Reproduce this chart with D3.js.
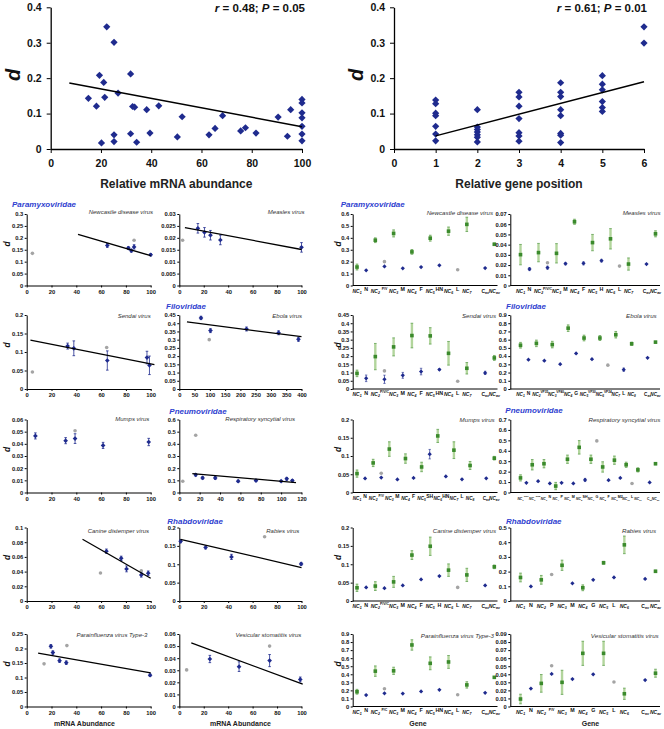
<!DOCTYPE html>
<meta charset="utf-8">
<head>
<script src="https://cdn.jsdelivr.net/npm/d3@7"></script>
<style>
body { margin: 0; background: #fff; }
text { font-family: "Liberation Sans", Arial, sans-serif; }
</style>
</head>
<body>
<script>

// ---- top panels: d against relative mRNA abundance / gene position ----
var mrnaX = [15, 18.2, 19.4, 20.2, 21.1, 21.5, 22.3, 25.2, 25.2, 25.2, 26.8, 31.8, 31.8, 32.6, 33.4, 34.2, 38.2, 39.5, 43,
             50.4, 52.3, 63, 65.4, 68.4, 75.6, 77.5, 81.7, 90.5, 94.2, 95.5, 100, 100, 100, 100, 100, 100, 100];
var mrnaD = [0.143, 0.121, 0.208, 0.017, 0.188, 0.146, 0.345, 0.301, 0.04, 0.021, 0.158, 0.212, 0.043, 0.12, 0.118, 0.019, 0.111, 0.045, 0.122,
             0.034, 0.091, 0.04, 0.058, 0.094, 0.051, 0.06, 0.045, 0.09, 0.036, 0.111, 0.14, 0.13, 0.102, 0.088, 0.064, 0.042, 0.023];
var mrnaFit = [[7.4, 0.186], [100, 0.063]];

var posX = [1, 1, 1, 1, 1, 1, 1, 2, 2, 2, 2, 2, 2, 2, 3, 3, 3, 3, 3, 3, 3, 4, 4, 4, 4, 4, 4, 4, 4, 5, 5, 5, 5, 5, 5, 6, 6];
var posD = [0.138, 0.128, 0.101, 0.094, 0.064, 0.042, 0.023,
            0.111, 0.062, 0.055, 0.048, 0.04, 0.033, 0.02,
            0.16, 0.147, 0.121, 0.086, 0.046, 0.037, 0.022,
            0.187, 0.16, 0.148, 0.111, 0.094, 0.044, 0.039, 0.018,
            0.207, 0.183, 0.167, 0.134, 0.117, 0.106,
            0.345, 0.299];
var posFit = [[1, 0.037], [6, 0.19]];

// ---- per virus: mRNA abundance, d, error  (grey = excluded points) ----
var ndvAbund = [[65, 0.168, 0.008], [82, 0.157, 0.006], [84.4, 0.146, 0.006], [86.6, 0.162, 0.009], [100, 0.129, 0.005]];
var ndvAbundGrey = [[4.6, 0.135], [86.6, 0.19]];
var ndvFit = [[41.4, 0.215], [100, 0.125]];

var measAbund = [[15.2, 0.024, 0.002], [20.6, 0.0223, 0.002], [25.5, 0.0211, 0.002], [33.6, 0.0191, 0.002], [100, 0.016, 0.002]];
var measAbundGrey = [[2.7, 0.019]];
var measFit = [[4.6, 0.0243], [100, 0.0151]];

var sendAbund = [[33, 0.116, 0.008], [38, 0.11, 0.02], [65, 0.077, 0.026], [97, 0.085, 0.017], [99, 0.064, 0.025]];
var sendAbundGrey = [[4.6, 0.046], [64.5, 0.112]];
var sendFit = [[3, 0.132], [103, 0.066]];

var ebolaAbund = [[71, 0.432, 0.01], [102, 0.355, 0.012], [220, 0.365, 0.012], [325, 0.342, 0.012], [390, 0.302, 0.012]];
var ebolaAbundGrey = [[98, 0.3]];
var ebolaFit = [[25, 0.408], [400, 0.318]];

var mumpsAbund = [[7, 0.0465, 0.0025], [31.4, 0.0426, 0.0025], [39, 0.0443, 0.004], [61.6, 0.0387, 0.0025], [98.4, 0.0415, 0.003]];
var mumpsAbundGrey = [[39, 0.0507]];

var rsvAbund = [[16.1, 0.145, 0.01], [22.9, 0.12, 0.01], [35.3, 0.12, 0.012], [57.8, 0.093, 0.008], [75.3, 0.098, 0.008],
                [100, 0.093, 0.006], [105.5, 0.112, 0.012], [111, 0.098, 0.008]];
var rsvAbundGrey = [[3.4, 0.093], [16.1, 0.47]];
var rsvFit = [[12.8, 0.155], [114.6, 0.082]];

var cdvAbund = [[64.3, 0.0677, 0.003], [76.2, 0.058, 0.003], [80.5, 0.0437, 0.004], [92.4, 0.0355, 0.003], [98, 0.0378, 0.003]];
var cdvAbundGrey = [[59.5, 0.038], [92.4, 0.041]];
var cdvFit = [[45, 0.084], [100, 0.031]];

var rabAbund = [[1.1, 0.1625, 0.004], [21.5, 0.1455, 0.004], [42.7, 0.12, 0.007], [99.7, 0.101, 0.004]];
var rabAbundGrey = [[69.8, 0.175]];
var rabFit = [[1, 0.168], [100, 0.091]];

var piv3Abund = [[19.5, 0.2075, 0.006], [21.1, 0.186, 0.006], [26.5, 0.158, 0.006], [31.9, 0.151, 0.006], [99.5, 0.108, 0.004]];
var piv3AbundGrey = [[14, 0.147], [32.4, 0.21]];
var piv3Fit = [[9.2, 0.184], [100, 0.116]];

var vsvAbund = [[25, 0.0393, 0.003], [48.9, 0.033, 0.004], [73.9, 0.038, 0.005], [99, 0.0224, 0.002]];
var vsvAbundGrey = [[6, 0.0303], [73.9, 0.05]];
var vsvFit = [[9.8, 0.0527], [101, 0.0185]];

// ---- per virus: genes (blue) and non-coding regions (green) ----
var ndvGenes = ["NC1", "N", "NC2", "P/V", "NC3", "M", "NC4", "F", "NC5", "HN", "NC6", "L", "NC7", "", "Cav", "NCav"];
var ndvGeneD = [0.155, 0.127, 0.38, 0.16, 0.437, 0.144, 0.282, 0.155, 0.397, 0.169, 0.456, null, 0.513, null, 0.146, 0.346];
var ndvGeneErr = [0.025, 0, 0.02, 0, 0.03, 0, 0.02, 0, 0.025, 0, 0.035, 0, 0.06, 0, 0, 0.01];
var ndvGeneGrey = [["P/V", 0.2], ["L", 0.132]];

var measGenes = ["NC1", "N", "NC2", "P/V/C", "NC3", "M", "NC4", "F", "NC5", "H", "NC6", "L", "NC7", "", "Cav", "NCav"];
var measGeneD = [0.0302, 0.0161, 0.0322, 0.0174, 0.0315, 0.0214, 0.0624, 0.0217, 0.042, 0.0243, 0.0457, null, 0.021, null, 0.021, 0.0506];
var measGeneErr = [0.01, 0.0015, 0.009, 0.0015, 0.0095, 0.0012, 0.0025, 0.0015, 0.008, 0.0013, 0.01, 0, 0.006, 0, 0, 0.003];
var measGeneGrey = [["P/V/C", 0.0223], ["L", 0.019]];

var sendGenes = ["NC1", "N", "NC2", "P/V/C", "NC3", "M", "NC4", "F", "NC5", "HN", "NC6", "L", "NC7", "", "Cav", "NCav"];
var sendGeneD = [0.095, 0.065, 0.197, 0.059, 0.256, 0.083, 0.325, 0.106, 0.323, 0.118, 0.217, null, 0.126, null, 0.098, 0.189];
var sendGeneErr = [0.02, 0.02, 0.08, 0.025, 0.055, 0.018, 0.075, 0.02, 0.05, 0.005, 0.072, 0, 0.035, 0, 0.01, 0.015];
var sendGeneGrey = [["P/V/C", 0.11], ["L", 0.047]];

var ebolaGenes = ["NC1", "N", "NC2", "VP35", "NC3", "VP40", "NC4", "G", "NC5", "VP30", "NC6", "VP24", "NC7", "L", "NC8", "", "Cav", "NCav"];
var ebolaGeneD = [0.532, 0.357, 0.555, 0.345, 0.54, 0.302, 0.74, 0.433, 0.62, 0.363, 0.62, null, 0.66, 0.235, 0.55, null, 0.38, 0.57];
var ebolaGeneErr = [0.035, 0, 0.04, 0, 0.04, 0, 0.04, 0, 0.035, 0, 0.03, 0, 0.04, 0.02, 0.02, 0, 0, 0.01];
var ebolaGeneGrey = [["VP24", 0.29]];

var mumpsGenes = ["NC1", "N", "NC2", "P/V", "NC3", "M", "NC4", "F", "NC5", "SH", "NC6", "HN", "NC7", "L", "NC8", "", "Cav", "NCav"];
var mumpsGeneD = [0.0518, 0.0384, 0.081, 0.041, 0.119, 0.0357, 0.093, 0.04, 0.07, 0.105, 0.155, 0.044, 0.116, 0.036, 0.074, null, 0.039, 0.094];
var mumpsGeneErr = [0.01, 0, 0.01, 0, 0.02, 0, 0.013, 0, 0.013, 0.013, 0.018, 0, 0.023, 0, 0.011, 0, 0, 0.005];
var mumpsGeneGrey = [["P/V", 0.0527]];

var rsvGenes = ["NC1", "NS1", "NC2", "NS2", "NC3", "N", "NC4", "P", "NC5", "M", "NC6", "SH", "NC7", "G", "NC8", "F",
                "NC9", "M2", "NC10", "L", "NC11", "", "Cav", "NCav"];
var rsvGeneD = [0.14, 0.093, 0.266, 0.108, 0.276, 0.087, 0.062, 0.093, 0.319, 0.087, 0.433, 0.12, 0.319, null, 0.245, 0.118,
                0.31, 0.14, 0.266, null, 0.217, null, 0.096, 0.276];
var rsvGeneErr = [0.03, 0, 0.05, 0, 0.04, 0, 0.035, 0, 0.04, 0, 0.065, 0.015, 0.04, 0, 0.05, 0,
                  0.04, 0, 0.025, 0, 0.02, 0, 0, 0.01];
var rsvGeneGrey = [["G", 0.495], ["L", 0.087]];

var cdvGenes = ["NC1", "N", "NC2", "P/V/C", "NC3", "M", "NC4", "F", "NC5", "H", "NC6", "L", "NC7", "", "Cav", "NCav"];
var cdvGeneD = [0.036, 0.037, 0.0406, 0.035, 0.052, 0.0425, 0.125, 0.0587, 0.149, 0.068, 0.084, null, 0.071, null, 0.0425, 0.093];
var cdvGeneErr = [0.01, 0, 0.012, 0, 0.015, 0, 0.012, 0, 0.025, 0, 0.017, 0, 0.018, 0, 0, 0.005];
var cdvGeneGrey = [["L", 0.037]];

var rabGenes = ["NC1", "N", "NC2", "P", "NC3", "M", "NC4", "G", "NC5", "L", "NC6", "", "Cav", "NCav"];
var rabGeneD = [0.16, 0.099, 0.144, null, 0.243, 0.12, 0.09, 0.144, 0.26, 0.16, 0.382, null, 0.15, 0.202];
var rabGeneErr = [0.03, 0, 0.03, 0, 0.035, 0, 0.02, 0, 0.01, 0, 0.06, 0, 0, 0.008];
var rabGeneGrey = [["P", 0.18]];

var piv3Genes = ["NC1", "N", "NC2", "P/C", "NC3", "M", "NC4", "F", "NC5", "HN", "NC6", "L", "NC7", "", "Cav", "NCav"];
var piv3GeneD = [0.183, 0.142, 0.439, 0.163, 0.443, 0.16, 0.764, 0.187, 0.536, 0.207, 0.553, null, 0.268, null, 0.17, 0.362];
var piv3GeneErr = [0.03, 0, 0.065, 0, 0.045, 0, 0.065, 0, 0.08, 0, 0.08, 0, 0.04, 0, 0, 0.01];
var piv3GeneGrey = [["P/C", 0.22], ["L", 0.146]];

var vsvGenes = ["NC1", "N", "NC2", "P/V", "NC3", "M", "NC4", "G", "NC5", "L", "NC6", "", "Cav", "NCav"];
var vsvGeneD = [0.0093, 0.0223, 0.0287, 0.0405, 0.03, 0.034, 0.066, 0.04, 0.066, null, 0.0158, null, 0.0328, 0.0413];
var vsvGeneErr = [0.006, 0, 0.011, 0, 0.015, 0, 0.015, 0, 0.015, 0, 0.007, 0, 0, 0.005];
var vsvGeneGrey = [["P/V", 0.0506], ["L", 0.0304]];

// ---- layout ----
var blue = "#1f2b8e", green = "#3b8a2c", lightGreen = "#b2d59c", grey = "#a4a4a4", famBlue = "#2f3fd0";
var rows = [{t: 214, b: 285.5}, {t: 315, b: 389}, {t: 419.5, b: 492.5}, {t: 527.5, b: 601}, {t: 634, b: 706.5}];
var nameY = [214, 317.8, 421, 532.5, 637];
var abCols = [[26.7, 150.7], [179.3, 301.5]];
var geneCols = [{axis: 352.7, r: [357, 494.3], end: 497.5}, {axis: 510.3, r: [520.5, 655.5], end: 660}];

var svg = d3.select("body").append("svg")
    .attr("width", 664)
    .attr("height", 729);

function diamond(g, cx, cy, size, fill) {
  g.append("path")
    .attr("d", d3.symbol().type(d3.symbolSquare).size(size)())
    .attr("transform", "translate(" + cx + "," + cy + ") rotate(45)")
    .attr("fill", fill);
}

function styleAxis(sel, fs) {
  sel.attr("font-size", fs).attr("font-weight", "bold").attr("font-family", null);
  sel.selectAll("path,line").attr("stroke", "#000");
  sel.selectAll("text").attr("fill", "#111");
}

function ticksOf(max, step) {
  return d3.range(0, Math.round(max / step) + 1).map(function(i) { return +(i * step).toFixed(4); });
}

// ---- big panels ----
function bigPanel(xs, ds, fit, xMax, xTicks, x0, x1, title, note) {
  var x = d3.scaleLinear().domain([0, xMax]).range([x0, x1]);
  var y = d3.scaleLinear().domain([0, 0.4]).range([149, 7.3]);
  var g = svg.append("g");

  g.append("g").attr("transform", "translate(0,149)")
    .call(d3.axisBottom(x).tickValues(xTicks).tickSize(4).tickSizeOuter(0).tickPadding(7)
      .tickFormat(function(d) { return String(d); }))
    .call(styleAxis, 10.5)
    .call(function(a) { a.select(".domain").attr("stroke-width", 1.3); });
  g.append("g").attr("transform", "translate(" + x0 + ",0)")
    .call(d3.axisLeft(y).tickValues([0, 0.1, 0.2, 0.3, 0.4]).tickSize(4).tickSizeOuter(0).tickPadding(5)
      .tickFormat(function(d) { return String(d); }))
    .call(styleAxis, 10.5)
    .call(function(a) { a.select(".domain").attr("stroke-width", 1.3); });

  xs.forEach(function(v, i) { diamond(g, x(v), y(ds[i]), 26, blue); });

  g.append("line")
    .attr("x1", x(fit[0][0])).attr("y1", y(fit[0][1]))
    .attr("x2", x(fit[1][0])).attr("y2", y(fit[1][1]))
    .attr("stroke", "#000").attr("stroke-width", 1.5);

  g.append("text").attr("x", (x0 + x1) / 2).attr("y", 187.5).attr("text-anchor", "middle")
    .attr("font-size", 12).attr("font-weight", "bold").attr("fill", "#222").text(title);

  g.append("text").attr("transform", "translate(" + (x0 - 31) + ",75) rotate(-90)")
    .attr("text-anchor", "middle").attr("font-size", 20).attr("font-weight", "bold")
    .attr("font-style", "italic").attr("fill", "#111").text("d");

  var t = g.append("text").attr("x", x1 + 3).attr("y", 11.5).attr("text-anchor", "end")
    .attr("font-size", 11.5).attr("font-weight", "bold").attr("fill", "#111");
  t.append("tspan").attr("font-style", "italic").text("r");
  t.append("tspan").text(" = " + note[0] + "; ");
  t.append("tspan").attr("font-style", "italic").text("P");
  t.append("tspan").text(" = " + note[1]);
}

bigPanel(mrnaX, mrnaD, mrnaFit, 100, [0, 20, 40, 60, 80, 100], 50.7, 302, "Relative mRNA abundance", ["0.48", "0.05"]);
bigPanel(posX, posD, posFit, 6, [0, 1, 2, 3, 4, 5, 6], 394, 644, "Relative gene position", ["0.61", "0.01"]);

// ---- small abundance panels ----
var abundPanels = [
  {name: "Newcastle disease virus", row: 0, col: 0, yMax: 0.3, yStep: 0.05, xMax: 100, xStep: 20, end: 153, pts: ndvAbund, grey: ndvAbundGrey, fit: ndvFit},
  {name: "Measles virus", row: 0, col: 1, yMax: 0.03, yStep: 0.005, xMax: 100, xStep: 20, end: 304.5, pts: measAbund, grey: measAbundGrey, fit: measFit},
  {name: "Sendai virus", row: 1, col: 0, yMax: 0.2, yStep: 0.05, xMax: 100, xStep: 20, end: 150.7, pts: sendAbund, grey: sendAbundGrey, fit: sendFit},
  {name: "Ebola virus", row: 1, col: 1, yMax: 0.45, yStep: 0.05, xMax: 400, xStep: 50, end: 302, pts: ebolaAbund, grey: ebolaAbundGrey, fit: ebolaFit},
  {name: "Mumps virus", row: 2, col: 0, yMax: 0.06, yStep: 0.01, xMax: 100, xStep: 20, end: 149.3, pts: mumpsAbund, grey: mumpsAbundGrey, fit: null},
  {name: "Respiratory syncytial virus", row: 2, col: 1, yMax: 0.6, yStep: 0.1, xMax: 120, xStep: 20, end: 295, pts: rsvAbund, grey: rsvAbundGrey, fit: rsvFit},
  {name: "Canine distemper virus", row: 3, col: 0, yMax: 0.1, yStep: 0.02, xMax: 100, xStep: 20, end: 149, pts: cdvAbund, grey: cdvAbundGrey, fit: cdvFit},
  {name: "Rabies virus", row: 3, col: 1, yMax: 0.2, yStep: 0.05, xMax: 100, xStep: 20, end: 299.3, pts: rabAbund, grey: rabAbundGrey, fit: rabFit},
  {name: "Parainfluenza virus Type-3", row: 4, col: 0, yMax: 0.25, yStep: 0.05, xMax: 100, xStep: 20, end: 147.3, pts: piv3Abund, grey: piv3AbundGrey, fit: piv3Fit},
  {name: "Vesicular stomatitis virus", row: 4, col: 1, yMax: 0.06, yStep: 0.01, xMax: 100, xStep: 20, end: 301.3, pts: vsvAbund, grey: vsvAbundGrey, fit: vsvFit}
];

abundPanels.forEach(function(p) {
  var R = rows[p.row], C = abCols[p.col];
  var x = d3.scaleLinear().domain([0, p.xMax]).range(C);
  var y = d3.scaleLinear().domain([0, p.yMax]).range([R.b, R.t]);
  var g = svg.append("g");

  g.append("g").attr("transform", "translate(0," + R.b + ")")
    .call(d3.axisBottom(x).tickValues(d3.range(0, p.xMax + 1, p.xStep)).tickSize(2).tickSizeOuter(0).tickPadding(2))
    .call(styleAxis, 5.8);
  g.append("g").attr("transform", "translate(" + C[0] + ",0)")
    .call(d3.axisLeft(y).tickValues(ticksOf(p.yMax, p.yStep)).tickSize(2).tickSizeOuter(0).tickPadding(1.5)
      .tickFormat(function(d) { return String(d); }))
    .call(styleAxis, 5.8);

  p.grey.forEach(function(q) {
    g.append("circle").attr("cx", x(q[0])).attr("cy", y(q[1])).attr("r", 1.8).attr("fill", grey);
  });

  p.pts.forEach(function(q) {
    var cx = x(q[0]);
    g.append("line").attr("x1", cx).attr("x2", cx).attr("y1", y(q[1] - q[2])).attr("y2", y(q[1] + q[2]))
      .attr("stroke", blue).attr("stroke-width", 0.8);
    [q[1] - q[2], q[1] + q[2]].forEach(function(v) {
      g.append("line").attr("x1", cx - 1.3).attr("x2", cx + 1.3).attr("y1", y(v)).attr("y2", y(v))
        .attr("stroke", blue).attr("stroke-width", 0.8);
    });
    diamond(g, cx, y(q[1]), 11, blue);
  });

  if (p.fit) {
    g.append("line")
      .attr("x1", x(p.fit[0][0])).attr("y1", y(p.fit[0][1]))
      .attr("x2", x(p.fit[1][0])).attr("y2", y(p.fit[1][1]))
      .attr("stroke", "#000").attr("stroke-width", 1.3);
  }

  g.append("text").attr("x", p.end).attr("y", nameY[p.row]).attr("text-anchor", "end")
    .attr("font-size", 6).attr("font-style", "italic").attr("fill", "#333").text(p.name);

  if (p.col === 0) {
    g.append("text").attr("transform", "translate(10," + (R.t + 30) + ") rotate(-90)")
      .attr("text-anchor", "middle").attr("font-size", 8.5).attr("font-weight", "bold")
      .attr("font-style", "italic").attr("fill", "#111").text("d");
  }
});

// ---- gene panels ----
var genePanels = [
  {name: "Newcastle disease virus", row: 0, col: 0, yMax: 0.6, yStep: 0.1, end: 493, labels: ndvGenes, d: ndvGeneD, err: ndvGeneErr, grey: ndvGeneGrey},
  {name: "Measles virus", row: 0, col: 1, yMax: 0.07, yStep: 0.01, end: 660.5, labels: measGenes, d: measGeneD, err: measGeneErr, grey: measGeneGrey},
  {name: "Sendai virus", row: 1, col: 0, yMax: 0.45, yStep: 0.05, end: 496, labels: sendGenes, d: sendGeneD, err: sendGeneErr, grey: sendGeneGrey},
  {name: "Ebola virus", row: 1, col: 1, yMax: 0.9, yStep: 0.1, end: 656.7, labels: ebolaGenes, d: ebolaGeneD, err: ebolaGeneErr, grey: ebolaGeneGrey},
  {name: "Mumps virus", row: 2, col: 0, yMax: 0.2, yStep: 0.05, end: 494.7, labels: mumpsGenes, d: mumpsGeneD, err: mumpsGeneErr, grey: mumpsGeneGrey},
  {name: "Respiratory syncytial virus", row: 2, col: 1, yMax: 0.7, yStep: 0.1, end: 660.3, labels: rsvGenes, d: rsvGeneD, err: rsvGeneErr, grey: rsvGeneGrey},
  {name: "Canine distemper virus", row: 3, col: 0, yMax: 0.2, yStep: 0.05, end: 496, labels: cdvGenes, d: cdvGeneD, err: cdvGeneErr, grey: cdvGeneGrey},
  {name: "Rabies virus", row: 3, col: 1, yMax: 0.5, yStep: 0.1, end: 656, labels: rabGenes, d: rabGeneD, err: rabGeneErr, grey: rabGeneGrey},
  {name: "Parainfluenza virus Type-3", row: 4, col: 0, yMax: 0.9, yStep: 0.1, end: 494, labels: piv3Genes, d: piv3GeneD, err: piv3GeneErr, grey: piv3GeneGrey},
  {name: "Vesicular stomatitis virus", row: 4, col: 1, yMax: 0.09, yStep: 0.01, end: 658.7, labels: vsvGenes, d: vsvGeneD, err: vsvGeneErr, grey: vsvGeneGrey}
];

function geneLabel(g, lab, cx, yb, k) {
  if (!lab) return;
  var m = lab.match(/^(NC|C)(\d+|av)$/);
  if (m) {
    var t = g.append("text").attr("x", cx).attr("y", yb + 7).attr("text-anchor", "middle")
      .attr("font-size", 5 * k).attr("font-weight", "bold").attr("fill", "#111")
      .attr("font-style", m[1] === "NC" ? "italic" : "normal");
    t.append("tspan").text(m[1]);
    t.append("tspan").attr("font-size", 3.5 * k).attr("dy", 1).text(m[2]);
  } else if (lab.length > 2) {
    g.append("text").attr("x", cx).attr("y", yb + 4.2).attr("text-anchor", "middle")
      .attr("font-size", 3.5 * k).attr("font-weight", "bold").attr("fill", "#111").text(lab);
  } else {
    g.append("text").attr("x", cx).attr("y", yb + 5.6).attr("text-anchor", "middle")
      .attr("font-size", 5.3 * k).attr("font-weight", "bold").attr("fill", "#111").text(lab);
  }
}

genePanels.forEach(function(p) {
  var R = rows[p.row], C = geneCols[p.col];
  var x = d3.scalePoint().domain(p.labels.map(function(d, i) { return i; })).range(C.r);
  var y = d3.scaleLinear().domain([0, p.yMax]).range([R.b, R.t]);
  var k = Math.min(1, x.step() / 8.6);
  var g = svg.append("g");

  g.append("g").attr("transform", "translate(" + C.axis + ",0)")
    .call(d3.axisLeft(y).tickValues(ticksOf(p.yMax, p.yStep)).tickSize(2).tickSizeOuter(0).tickPadding(1.5)
      .tickFormat(function(d) { return String(d); }))
    .call(styleAxis, 5.8);
  g.append("line").attr("x1", C.axis).attr("x2", C.end).attr("y1", R.b).attr("y2", R.b)
    .attr("stroke", "#000").attr("stroke-width", 1);

  p.grey.forEach(function(q) {
    var i = p.labels.indexOf(q[0]);
    g.append("circle").attr("cx", x(i)).attr("cy", y(q[1])).attr("r", 1.8).attr("fill", grey);
  });

  p.labels.forEach(function(lab, i) {
    var cx = x(i), v = p.d[i], e = p.err[i];
    geneLabel(g, lab, cx, R.b, k);
    if (v === null) return;
    var nc = lab.indexOf("NC") === 0;
    if (nc) {
      if (e > 0) {
        g.append("rect").attr("x", cx - 1.2).attr("width", 2.4)
          .attr("y", y(v + e)).attr("height", y(v - e) - y(v + e)).attr("fill", lightGreen);
        [v - e, v + e].forEach(function(w) {
          g.append("line").attr("x1", cx - 1.3).attr("x2", cx + 1.3).attr("y1", y(w)).attr("y2", y(w))
            .attr("stroke", green).attr("stroke-width", 0.6);
        });
      }
      g.append("rect").attr("x", cx - 1.8).attr("y", y(v) - 1.8).attr("width", 3.6).attr("height", 3.6).attr("fill", green);
    } else {
      if (e > 0) {
        g.append("line").attr("x1", cx).attr("x2", cx).attr("y1", y(v - e)).attr("y2", y(v + e))
          .attr("stroke", blue).attr("stroke-width", 0.7);
        [v - e, v + e].forEach(function(w) {
          g.append("line").attr("x1", cx - 1.2).attr("x2", cx + 1.2).attr("y1", y(w)).attr("y2", y(w))
            .attr("stroke", blue).attr("stroke-width", 0.6);
        });
      }
      diamond(g, cx, y(v), 9, blue);
    }
  });

  g.append("text").attr("x", p.end).attr("y", nameY[p.row] + 0.5).attr("text-anchor", "end")
    .attr("font-size", 6.2).attr("font-style", "italic").attr("fill", "#333").text(p.name);

  if (p.col === 0) {
    g.append("text").attr("transform", "translate(341," + (R.t + 30) + ") rotate(-90)")
      .attr("text-anchor", "middle").attr("font-size", 8.5).attr("font-weight", "bold")
      .attr("font-style", "italic").attr("fill", "#111").text("d");
  }
});

// ---- family labels and bottom titles ----
var families = [
  ["Paramyxoviridae", 12, 206.5], ["Paramyxoviridae", 340.7, 206.5],
  ["Filoviridae", 166, 308.8], ["Filoviridae", 506, 308.8],
  ["Pneumoviridae", 169.3, 413.5], ["Pneumoviridae", 505.3, 413],
  ["Rhabdoviridae", 167.3, 524], ["Rhabdoviridae", 506, 524]
];
svg.selectAll(".fam").data(families).enter().append("text")
  .attr("x", function(d) { return d[1]; })
  .attr("y", function(d) { return d[2]; })
  .attr("font-size", 8).attr("font-weight", "bold").attr("font-style", "italic")
  .attr("fill", famBlue)
  .text(function(d) { return d[0]; });

var bottomTitles = [["mRNA Abundance", 84.5], ["mRNA Abundance", 240.5], ["Gene", 418], ["Gene", 590.5]];
svg.selectAll(".bt").data(bottomTitles).enter().append("text")
  .attr("x", function(d) { return d[1]; })
  .attr("y", 725.5)
  .attr("text-anchor", "middle")
  .attr("font-size", 7).attr("font-weight", "bold").attr("fill", "#222")
  .text(function(d) { return d[0]; });

</script>
</body>
